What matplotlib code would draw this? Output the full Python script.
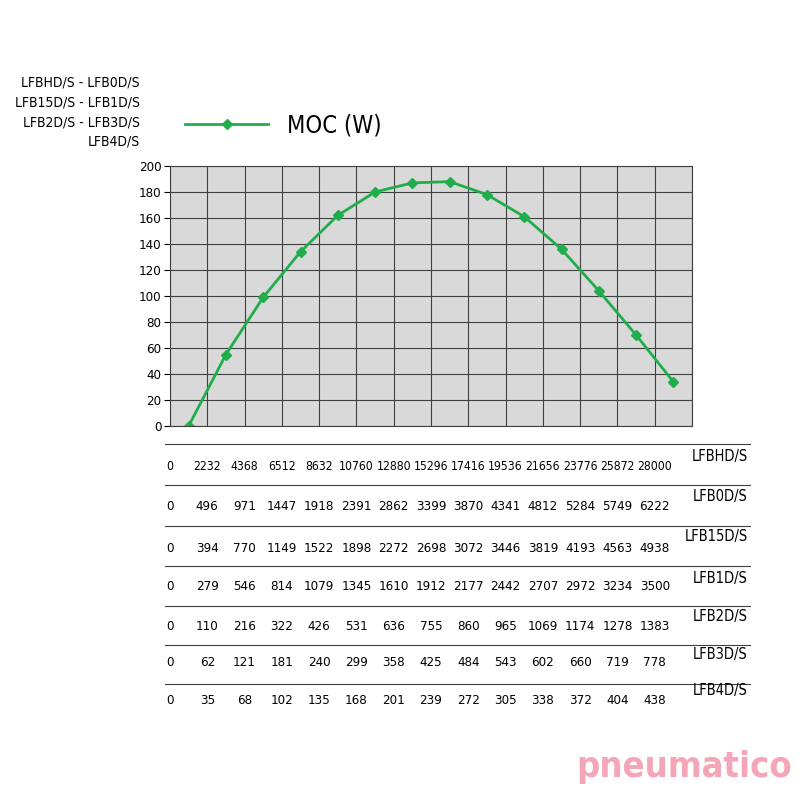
import matplotlib.pyplot as plt
import matplotlib.transforms as mtransforms

plt.rcParams['font.family'] = ['DejaVu Sans']
plt.rcParams['font.stretch'] = 'condensed'

moc = [0, 55, 99, 134, 162, 180, 187, 188, 178, 161, 136, 104, 70, 34]

models = ['LFBHD/S', 'LFB0D/S', 'LFB15D/S', 'LFB1D/S', 'LFB2D/S', 'LFB3D/S', 'LFB4D/S']
flows = [
    [0, 2232, 4368, 6512, 8632, 10760, 12880, 15296, 17416, 19536, 21656, 23776, 25872, 28000],
    [0, 496, 971, 1447, 1918, 2391, 2862, 3399, 3870, 4341, 4812, 5284, 5749, 6222],
    [0, 394, 770, 1149, 1522, 1898, 2272, 2698, 3072, 3446, 3819, 4193, 4563, 4938],
    [0, 279, 546, 814, 1079, 1345, 1610, 1912, 2177, 2442, 2707, 2972, 3234, 3500],
    [0, 110, 216, 322, 426, 531, 636, 755, 860, 965, 1069, 1174, 1278, 1383],
    [0, 62, 121, 181, 240, 299, 358, 425, 484, 543, 602, 660, 719, 778],
    [0, 35, 68, 102, 135, 168, 201, 239, 272, 305, 338, 372, 404, 438],
]

fig = plt.figure(figsize=(8, 8), dpi=100)
ax = fig.add_axes([0.2125, 0.4675, 0.6525, 0.325])
ax.set_facecolor('#d9d9d9')
ax.set_xlim(0, 14)
ax.set_ylim(0, 200)
ax.set_xticks(range(15))
ax.set_yticks(range(0, 201, 20))
ax.grid(True, color='#404040', linewidth=0.8)
ax.tick_params(axis='x', length=0, labelbottom=False)
ax.tick_params(axis='y', labelsize=9.5, length=4, pad=2)
for s in ax.spines.values():
    s.set_color('#404040')
    s.set_linewidth(0.8)

xs = [i + 0.5 for i in range(len(moc))]
line, = ax.plot(xs, moc, color='#1fae4b', marker='D', markersize=5, linewidth=2)
ax.set_axisbelow(True)

fig.legend([line], ['MOC (W)'], loc='upper left', bbox_to_anchor=(0.205, 0.885),
           frameon=False, handlelength=3.5, prop={'size': 17})

fig.text(0.175, 0.905, 'LFBHD/S - LFB0D/S\nLFB15D/S - LFB1D/S\nLFB2D/S - LFB3D/S\nLFB4D/S',
         ha='right', va='top', fontsize=10, linespacing=1.5)

trans = mtransforms.blended_transform_factory(ax.transData, fig.transFigure)
num_y = [466, 507, 548, 586, 626, 663, 701]
name_y = [457, 497, 537, 578, 616, 654, 691]
line_y = [444, 485, 526, 566, 606, 645, 684]
for r in range(len(models)):
    fs = 8.7 if r == 0 else 9.5
    for i, v in enumerate(flows[r]):
        fig.text(i, 1 - num_y[r] / 800, str(v), transform=trans, ha='center', va='center', fontsize=fs)
    fig.text(0.935, 1 - name_y[r] / 800, models[r], ha='right', va='center', fontsize=10.5)
    fig.add_artist(plt.Line2D([0.206, 0.938], [1 - line_y[r] / 800] * 2, color='#404040', linewidth=0.8))

fig.text(0.99, 0.02, 'pneumatico', ha='right', va='bottom', fontsize=26, fontweight='bold',
         color='#f4a6b8')

fig.savefig('out.png', dpi=100)
